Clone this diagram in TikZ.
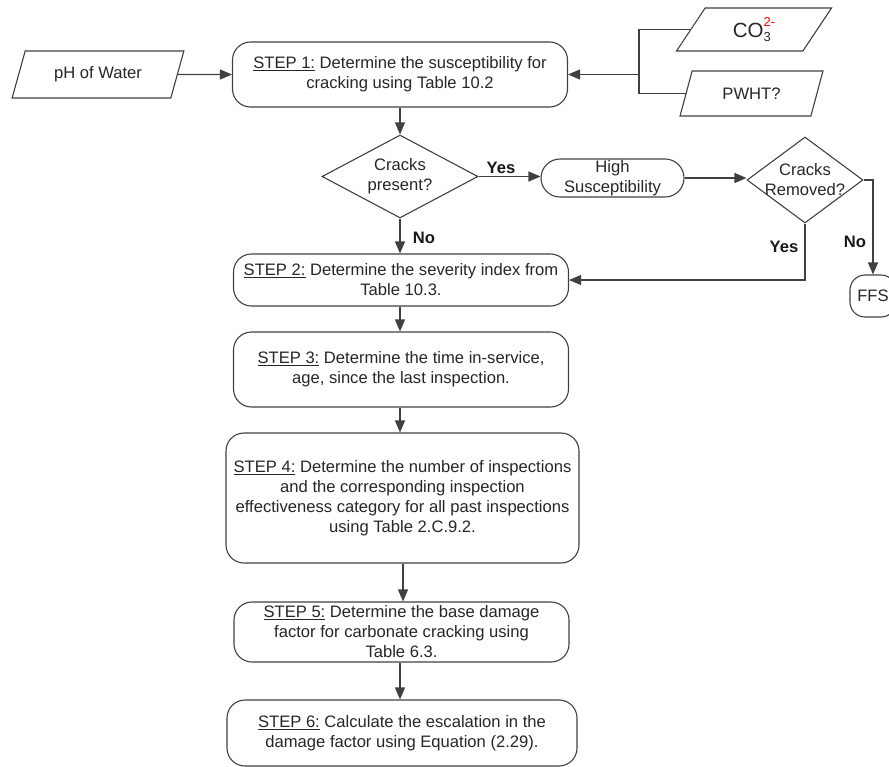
\documentclass[tikz,border=0pt]{standalone}
\usepackage{fontspec}
\setmainfont{Liberation Sans}
\usetikzlibrary{shapes.geometric,arrows.meta,calc}
\begin{document}
\begin{tikzpicture}[x=1pt,y=-1pt,
  font=\fontsize{16.6}{20}\selectfont,
  ln/.style={draw=black!75,line width=1.1pt},
  arr/.style={ln,-{Triangle[length=12pt,width=10pt]}},
  stepbox/.style={ln,rectangle,rounded corners=18pt,align=center,inner sep=0pt,text=black!85},
  para/.style={ln,trapezium,trapezium left angle=63,trapezium right angle=117,trapezium stretches=true,inner sep=0pt,text=black!85},
  dia/.style={ln,diamond,inner sep=0pt},
  dtext/.style={align=center,text=black!85,inner sep=0pt},
  lbl/.style={font=\fontsize{16.6}{20}\selectfont\bfseries,text=black!90}]
\useasboundingbox (0,0) rectangle (889,766);
\clip (0,0) rectangle (889,766);

% inputs
\node[para,minimum width=172pt,minimum height=47pt] (ph) at (98,74.5) {pH of Water};
\node[para,minimum width=156pt,minimum height=43pt,font=\fontsize{20.5}{24}\selectfont] (co3) at (754,29.5)
  {CO\rlap{\raisebox{-0.35ex}{\fontsize{13}{14}\selectfont 3}}\raisebox{1.05ex}{\fontsize{13}{14}\selectfont\color{red}2-}};
\node[para,minimum width=143pt,minimum height=45pt] (pwht) at (751.5,93.5) {PWHT?};

% steps
\node[stepbox,minimum width=335pt,minimum height=65pt] (s1) at (400,74.5)
  {\underline{STEP 1:} Determine the susceptibility for\\cracking using Table 10.2};
\node[dia,minimum width=156pt,minimum height=83pt,
  label={[dtext]center:Cracks\\present?}] (d1) at (400,176.5) {};
\node[stepbox,rounded corners=19pt,minimum width=143pt,minimum height=38pt] (hs) at (612.5,178) {High\\Susceptibility};
\node[dia,minimum width=116pt,minimum height=86pt,
  label={[dtext]center:Cracks\\Removed?}] (d2) at (805,180) {};
\node[stepbox,rounded corners=15pt,minimum width=46pt,minimum height=42pt] (ffs) at (873,296) {FFS};
\node[stepbox,minimum width=335pt,minimum height=52pt] (s2) at (401,280)
  {\underline{STEP 2:} Determine the severity index from\\Table 10.3.};
\node[stepbox,minimum width=335pt,minimum height=75pt] (s3) at (401,369.5)
  {\underline{STEP 3:} Determine the time in-service,\\age, since the last inspection.};
\node[stepbox,minimum width=353pt,minimum height=130pt] (s4) at (402.5,498)
  {\underline{STEP 4:} Determine the number of inspections\\and the corresponding inspection\\effectiveness category for all past inspections\\using Table 2.C.9.2.};
\node[stepbox,minimum width=335pt,minimum height=60pt] (s5) at (401.5,632)
  {\underline{STEP 5:} Determine the base damage\\factor for carbonate cracking using\\Table 6.3.};
\node[stepbox,minimum width=350pt,minimum height=66pt] (s6) at (402,733)
  {\underline{STEP 6:} Calculate the escalation in the\\damage factor using Equation (2.29).};

% connectors
\coordinate (br) at (639,74.5);
\draw[arr] (ph.east) -- (s1.west);
\draw[ln] (co3.west) -| (br);
\draw[ln] (pwht.west) -| (br);
\draw[arr] (br) -- (s1.east);
\draw[arr] (s1.south) -- (d1.north);
\draw[arr] (d1.east) -- (d1.east -| hs.west);
\draw[arr] (hs.east) -- (hs.east -| d2.west);
\draw[arr] (d2.east) -| (ffs.north);
\draw[arr] (d2.south) |- (s2.east);
\draw[arr] (d1.south) -- (d1.south |- s2.north);
\draw[arr] (s2.south -| s1.south) -- (s3.north -| s1.south);
\draw[arr] (s3.south -| s1.south) -- (s4.north -| s1.south);
\draw[arr] (s4.south -| 403,0) -- (s5.north -| 403,0);
\draw[arr] (s5.south -| s1.south) -- (s6.north -| s1.south);

% labels
\node[lbl] (y1) at (501,168) {Yes};
\node[lbl] (n1) at (424,238) {No};
\node[lbl] (y2) at (784,247) {Yes};
\node[lbl] (n2) at (855,242) {No};
\end{tikzpicture}
\end{document}
